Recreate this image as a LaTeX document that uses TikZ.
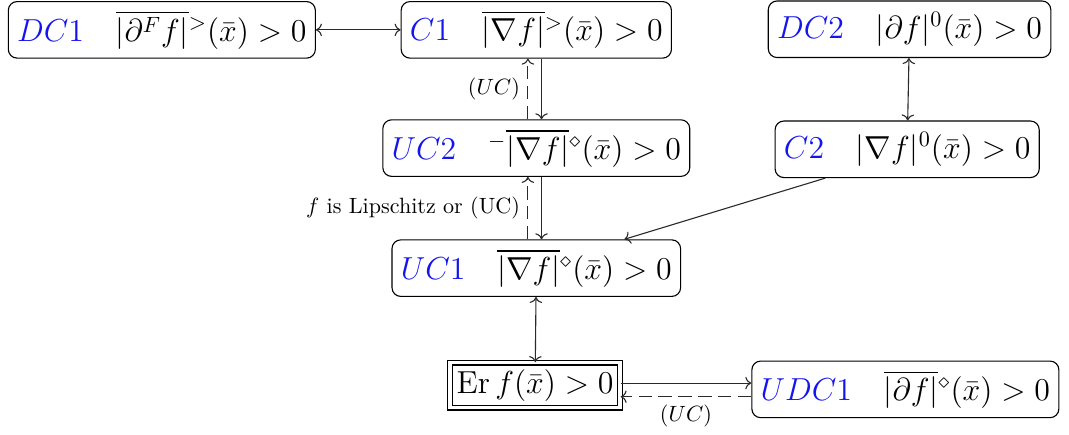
\documentclass[tikz,border=0pt]{standalone}
\usepackage{amsmath}
\usetikzlibrary{arrows.meta, positioning, calc}
\definecolor{cblue}{HTML}{1414F0}
\definecolor{cline}{HTML}{2A2A2A}
\tikzset{
  every picture/.style={line width=0.5pt},
  cond/.style={draw=black, rounded corners=4pt, inner sep=4pt, minimum height=0.9cm, font=\Large},
  errbox/.style={draw=black, double, double distance=1.6pt, inner sep=3pt, font=\Large},
  imp/.style={->, draw=cline},
  dimp/.style={->, draw=cline, dash pattern=on 6pt off 3pt},
  cond label/.style={font=\normalsize},
}
\newcommand{\condtag}[1]{\textcolor{cblue}{$#1$}\quad}

\begin{document}
\begin{tikzpicture}[scale=0.95]
  \useasboundingbox (0,0) rectangle (17.9,-7.27);
  % first row
  \node[cond] (dc1) at (2.71,-0.50) {\condtag{DC1}$\overline{|\partial^F f|}{}^{>}(\bar x)>0$};
  \node[cond] (c1) at (8.98,-0.50) {\condtag{C1}$\overline{|\nabla f|}{}^{>}(\bar x)>0$};
  \node[cond] (dc2) at (15.23,-0.49) {\condtag{DC2}$|\partial f|^{0}(\bar x)>0$};
  % second row
  \node[cond] (uc2) at (8.98,-2.48) {\condtag{UC2}${}^{-}\overline{|\nabla f|}{}^{\diamond}(\bar x)>0$};
  \node[cond] (c2) at (15.19,-2.50) {\condtag{C2}$|\nabla f|^{0}(\bar x)>0$};
  % third row
  \node[cond] (uc1) at (8.98,-4.49) {\condtag{UC1}$\overline{|\nabla f|}{}^{\diamond}(\bar x)>0$};
  % bottom
  \node[errbox] (er) at (8.96,-6.45) {$\mathrm{Er}\,f(\bar x)>0$};
  \node[cond] (udc1) at (15.16,-6.52) {\condtag{UDC1}$\overline{|\partial f|}{}^{\diamond}(\bar x)>0$};

  \draw[imp, <->] (dc1) -- (c1);
  \draw[imp, <->] (dc2) -- (c2);
  \draw[imp] ([xshift=2.5pt]c1.south) -- ([xshift=2.5pt]c1.south |- uc2.north);
  \draw[dimp] ([xshift=-4pt]uc2.north) -- ([xshift=-4pt]uc2.north |- c1.south)
    node[midway, left, cond label] {$(UC)$};
  \draw[imp] ([xshift=2.5pt]uc2.south) -- ([xshift=2.5pt]uc2.south |- uc1.north);
  \draw[dimp] ([xshift=-4pt]uc1.north) -- ([xshift=-4pt]uc1.north |- uc2.south)
    node[midway, left, cond label] {$f$ is Lipschitz or (UC)};
  \draw[imp] ([xshift=0.85cm]c2.south west) -- ([xshift=-0.95cm]uc1.north east);
  \draw[imp, <->] (uc1) -- (er);
  \draw[imp] ([yshift=1pt]er.east) -- ([yshift=1pt]er.east -| udc1.west);
  \draw[dimp] ([yshift=-5.5pt]er.east -| udc1.west) -- ([yshift=-5.5pt]er.east)
    node[midway, below, cond label] {$(UC)$};
\end{tikzpicture}
\end{document}
